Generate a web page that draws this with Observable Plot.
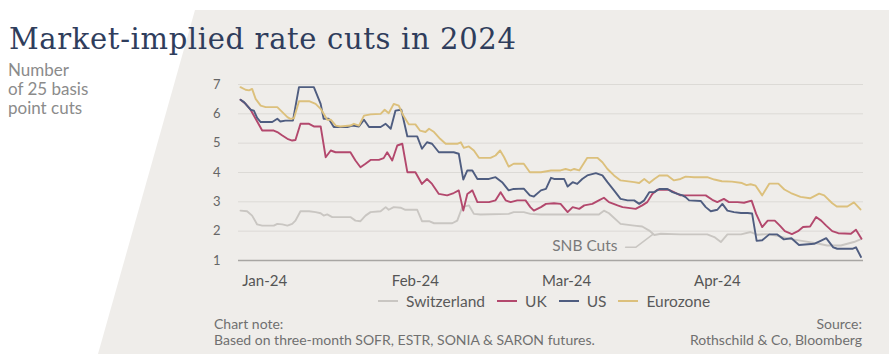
<!DOCTYPE html>
<html><head><meta charset="utf-8">
<script src="https://cdn.jsdelivr.net/npm/d3@7"></script>
<script src="https://cdn.jsdelivr.net/npm/@observablehq/plot@0.6"></script>
<style>
html,body{margin:0;padding:0;background:#fff;}
#wrap{position:relative;width:889px;height:354px;overflow:hidden;font-family:Lato,sans-serif;}
#panel{position:absolute;left:0;top:0;width:889px;height:354px;background:#efedea;clip-path:polygon(195px 10px,889px 10px,889px 354px,98px 354px);}
#title{position:absolute;left:9px;top:25px;font-family:"DejaVu Serif",serif;font-size:29px;letter-spacing:0.65px;color:#2f3d5c;white-space:nowrap;line-height:29px;}
#sub{position:absolute;left:8px;top:60px;font-size:17px;line-height:19px;color:#8b8b8b;}
#chart{position:absolute;left:0;top:60px;}
#legend{position:absolute;left:372px;top:291px;height:20px;display:flex;align-items:center;white-space:nowrap;font-size:15.5px;color:#5a5a5a;}
#legend .item{display:flex;align-items:center;margin:0 6px;}
#legend .sw{width:20px;height:2px;margin-right:8px;}
#note{position:absolute;left:214px;top:316px;font-size:14px;line-height:16px;color:#707070;}
#source{position:absolute;right:27px;top:316px;font-size:14px;line-height:16px;color:#707070;text-align:right;}
</style>
</head><body>
<div id="wrap">
  <div id="panel"></div>
  <div id="title">Market-implied rate cuts in 2024</div>
  <div id="sub">Number<br>of 25 basis<br>point cuts</div>
  <div id="chart"></div>
  <div id="legend"></div>
  <div id="note">Chart note:<br>Based on three-month SOFR, ESTR, SONIA &amp; SARON futures.</div>
  <div id="source">Source:<br>Rothschild &amp; Co, Bloomberg</div>
</div>
<script>
// ---- data (x = observation index, y = number of 25bp cuts) ----
const seriesNames = ["Switzerland", "UK", "US", "Eurozone"];
const seriesColors = ["#c9c6c2", "#b3486d", "#4f5d80", "#dcc07c"];

const switzerland = [[0,2.70],[1.3,2.68],[2.3,2.53],[3.3,2.23],[4.3,2.19],[6.6,2.19],[7.3,2.25],[8.3,2.23],[9.3,2.19],[10.25,2.25],[10.9,2.36],[11.9,2.68],[13.6,2.68],[14.9,2.65],[15.9,2.61],[16.5,2.53],[17.2,2.57],[18.2,2.48],[21.8,2.48],[22.8,2.36],[23.8,2.34],[24.8,2.53],[25.8,2.65],[27.8,2.68],[28.8,2.82],[29.4,2.73],[30.4,2.82],[31.75,2.80],[32.7,2.73],[35.05,2.73],[36.0,2.34],[37.4,2.34],[38.4,2.27],[42.0,2.27],[43.0,2.36],[44.0,2.82],[45.3,2.88],[46.3,2.59],[47.6,2.57],[53.2,2.59],[54.2,2.65],[56.2,2.65],[57.5,2.59],[59.6,2.57],[71.1,2.57],[72.1,2.70],[73.1,2.61],[75.4,2.25],[78.1,2.19],[79.7,2.16],[81.1,2.02],[82.1,1.87],[83.4,1.91],[87.3,1.89],[92.6,1.89],[94.0,1.80],[95.3,1.63],[96.6,1.89],[99.3,1.89],[101.2,1.97],[102.5,1.88],[104.5,1.90],[106.5,1.84],[109.5,1.72],[112.0,1.65],[114.5,1.58],[116.4,1.51],[119.1,1.51],[121.7,1.63],[123.0,1.72]];

const uk = [[0,6.48],[1.0,6.34],[2.0,6.14],[3.0,5.83],[4.3,5.43],[6.6,5.43],[7.3,5.38],[8.3,5.26],[9.3,5.15],[10.25,5.09],[10.9,5.11],[11.9,5.66],[13.6,5.66],[14.55,5.57],[15.9,5.57],[16.9,4.52],[17.9,4.75],[18.85,4.69],[21.8,4.69],[22.8,4.41],[23.8,4.18],[24.8,4.30],[25.8,4.43],[27.45,4.43],[28.4,4.49],[29.1,4.69],[30.1,4.41],[31.1,4.92],[32.1,4.98],[33.1,4.01],[34.7,4.01],[36.0,3.61],[37.0,3.78],[38.0,3.61],[39.35,3.27],[41.0,3.22],[42.3,3.30],[43.3,3.39],[44.2,2.70],[45.0,3.27],[46.0,3.39],[47.0,2.99],[49.3,2.99],[50.6,3.05],[51.6,3.33],[52.6,3.05],[53.6,2.99],[54.9,3.05],[56.55,3.05],[57.5,2.82],[58.2,2.70],[59.6,2.82],[60.6,2.93],[62.2,2.95],[63.5,2.93],[64.9,2.65],[65.9,2.82],[67.2,2.76],[68.2,2.88],[69.8,2.93],[71.1,3.05],[72.1,3.14],[73.1,2.99],[74.8,2.88],[75.8,2.82],[78.4,2.76],[79.7,2.88],[80.7,2.99],[81.7,3.27],[82.7,3.41],[85.0,3.41],[86.0,3.33],[87.3,3.22],[88.7,3.22],[92.3,3.22],[93.6,3.07],[94.6,2.99],[95.9,3.10],[96.9,2.99],[98.6,2.99],[99.9,2.97],[101.4,3.04],[102.3,2.59],[103.5,2.14],[104.6,2.36],[106.0,2.36],[107.0,2.19],[108.0,2.00],[109.4,1.90],[110.6,2.00],[111.6,2.14],[113.0,2.16],[114.2,2.48],[115.2,2.36],[116.2,2.19],[117.4,2.00],[118.6,1.93],[121.1,1.91],[122.1,2.05],[123.2,1.74]];

const us = [[0,6.48],[0.7,6.40],[1.3,6.28],[2.0,6.14],[2.65,6.11],[3.3,5.86],[4.0,5.72],[6.3,5.72],[7.3,5.83],[7.9,5.74],[8.9,5.77],[10.4,5.77],[11.6,6.91],[14.55,6.91],[15.9,6.34],[16.5,5.83],[17.5,5.83],[18.5,5.55],[21.2,5.55],[22.2,5.60],[23.5,5.57],[24.5,5.80],[25.5,5.55],[27.8,5.55],[28.8,5.66],[29.8,5.49],[30.75,6.11],[31.9,6.14],[33.1,5.23],[35.05,5.23],[36.0,4.81],[37.0,5.03],[38.0,4.98],[39.35,4.69],[42.3,4.69],[43.3,4.64],[44.2,3.76],[45.0,4.07],[46.0,4.07],[47.0,3.78],[49.3,3.78],[50.6,3.84],[51.9,3.67],[53.2,3.39],[54.2,3.44],[56.2,3.45],[57.4,3.22],[58.2,3.18],[59.6,3.39],[60.6,3.44],[61.6,3.82],[62.2,3.78],[64.2,3.78],[64.9,3.52],[65.9,3.67],[66.8,3.61],[67.8,3.78],[68.8,3.90],[70.5,3.98],[71.8,3.90],[72.8,3.67],[74.1,3.39],[75.4,3.10],[76.8,3.05],[78.1,3.05],[79.1,2.93],[80.1,3.05],[81.1,3.33],[82.1,3.33],[83.1,3.44],[84.7,3.44],[85.7,3.33],[86.7,3.27],[87.7,3.22],[88.3,3.16],[89.0,3.05],[91.3,3.03],[92.3,2.82],[93.3,2.68],[94.6,2.73],[95.6,2.93],[96.6,2.70],[97.9,2.65],[99.3,2.62],[100.6,2.62],[101.5,2.60],[102.4,1.67],[103.5,1.69],[104.9,1.89],[106.5,1.89],[107.8,1.72],[109.3,1.76],[110.8,1.53],[113.8,1.57],[115.2,1.68],[116.2,1.76],[117.6,1.45],[118.4,1.40],[121.4,1.40],[122.1,1.45],[123.1,1.12]];

const eurozone = [[0,6.91],[1.0,6.82],[1.7,6.80],[2.3,6.85],[3.0,6.51],[4.0,6.28],[5.0,6.23],[7.3,6.23],[8.3,6.06],[9.3,5.89],[9.9,5.83],[10.6,5.85],[11.6,6.43],[13.6,6.43],[14.9,6.34],[15.9,6.17],[16.5,6.00],[17.2,5.80],[17.9,5.80],[18.9,5.60],[19.8,5.57],[21.8,5.60],[22.5,5.66],[23.5,5.60],[24.5,5.94],[25.8,5.98],[27.8,6.00],[28.6,6.14],[29.4,6.02],[30.4,6.34],[31.4,6.28],[32.3,5.94],[33.4,5.64],[34.7,5.64],[35.6,5.43],[36.7,5.38],[37.4,5.49],[38.4,5.38],[39.6,5.15],[40.7,4.98],[43.0,4.98],[43.7,5.03],[44.3,4.84],[45.3,4.89],[46.3,4.75],[47.3,4.50],[49.6,4.50],[50.6,4.58],[51.5,4.75],[52.3,4.52],[53.2,4.20],[54.2,4.30],[56.2,4.30],[57.4,4.01],[59.6,4.01],[61.6,4.07],[63.5,4.07],[64.5,4.12],[65.5,4.07],[66.2,4.12],[67.2,4.07],[68.8,4.50],[70.8,4.50],[71.8,4.35],[72.8,4.12],[74.1,3.90],[75.4,3.73],[78.1,3.67],[79.1,3.64],[80.1,3.78],[81.1,3.64],[82.1,3.78],[83.1,3.90],[84.7,3.90],[86.0,3.73],[87.3,3.78],[88.3,3.86],[90.0,3.84],[92.6,3.84],[94.0,3.76],[95.5,3.70],[97.5,3.69],[99.5,3.64],[100.4,3.57],[101.2,3.60],[102.2,3.55],[103.5,3.22],[104.9,3.62],[106.7,3.62],[107.9,3.42],[109.2,3.30],[111.1,3.17],[113.0,3.12],[114.8,3.28],[115.8,3.22],[117.4,2.95],[118.3,2.84],[120.4,2.84],[121.7,2.98],[123.0,2.74]];

const yTicks = [1, 2, 3, 4, 5, 6, 7];
const gridLines = [2, 3, 4, 5, 6, 7];
const xTickPos = [4.8, 34.7, 64.7, 94.6];
const xTickLabels = ["Jan-24", "Feb-24", "Mar-24", "Apr-24"];

const snbLabel = [{x: 74.8, y: 1.48, text: "SNB Cuts"}];
const snbLeader = [[76.4, 1.45], [78.4, 1.45], [81.8, 1.89]];

// ---- build ----
const seriesData = [switzerland, uk, us, eurozone];
const tickLabelByPos = new Map(xTickPos.map((p, i) => [p, xTickLabels[i]]));

const lineMarks = seriesData.map((pts, i) =>
  Plot.line(pts, {x: d => d[0], y: d => d[1], stroke: seriesColors[i], strokeWidth: 1.9, strokeLinejoin: "round", strokeLinecap: "round"})
);

const chart = Plot.plot({
  width: 889, height: 240,
  marginLeft: 238, marginRight: 26, marginTop: 24, marginBottom: 40,
  style: {background: "transparent", fontFamily: "Lato, sans-serif", overflow: "visible"},
  x: {domain: [-0.4, 123.6]},
  y: {domain: [1, 7]},
  marks: [
    Plot.ruleY(gridLines, {stroke: "#dcdad6", strokeWidth: 1}),
    Plot.ruleY([1], {stroke: "#a8a6a3", strokeWidth: 1.6}),
    Plot.axisY(yTicks, {tickSize: 0, tickPadding: 18, fontSize: 13, color: "#666", label: null}),
    Plot.axisX(xTickPos, {tickSize: 0, tickPadding: 15, fontSize: 15, color: "#555", label: null, tickFormat: d => tickLabelByPos.get(d)}),
    Plot.line(snbLeader, {x: d => d[0], y: d => d[1], stroke: "#c9c6c2", strokeWidth: 1.5}),
    Plot.text(snbLabel, {x: "x", y: "y", text: "text", textAnchor: "end", fontSize: 15.5, fill: "#7a7a7a"}),
    ...lineMarks
  ]
});
document.getElementById("chart").appendChild(chart);

// legend
const legend = document.getElementById("legend");
seriesNames.forEach((name, i) => {
  const item = document.createElement("div");
  item.className = "item";
  const sw = document.createElement("span");
  sw.className = "sw";
  sw.style.background = seriesColors[i];
  const lab = document.createElement("span");
  lab.textContent = name;
  item.appendChild(sw); item.appendChild(lab);
  legend.appendChild(item);
});
</script>
</body></html>
